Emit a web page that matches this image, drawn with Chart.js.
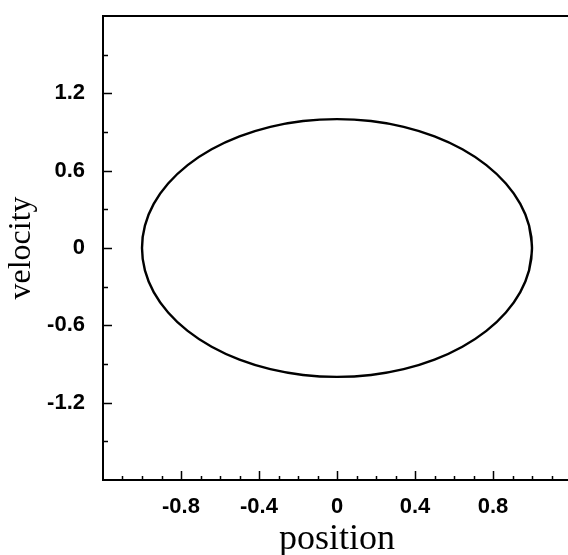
<!DOCTYPE html>
<html>
<head>
<meta charset="utf-8">
<script src="https://cdn.jsdelivr.net/npm/chart.js@4"></script>
<style>
  html, body { margin: 0; padding: 0; background: #fff; overflow: hidden; }
  #wrap { width: 575px; height: 555px; }
</style>
</head>
<body>
<div id="wrap"><canvas id="phase" width="575" height="555"></canvas></div>
<script>
  // trajectory (position, velocity); runs one step past the
  // start at each end so the loop closes without a corner
  const position = [0.985, 1, 0.985, 0.94, 0.866, 0.766, 0.643, 0.5, 0.342, 0.174, 0,
    -0.174, -0.342, -0.5, -0.643, -0.766, -0.866, -0.94, -0.985, -1,
    -0.985, -0.94, -0.866, -0.766, -0.643, -0.5, -0.342, -0.174, 0,
    0.174, 0.342, 0.5, 0.643, 0.766, 0.866, 0.94, 0.985, 1, 0.985];
  const velocity = [0.174, 0, -0.174, -0.342, -0.5, -0.643, -0.766, -0.866, -0.94, -0.985, -1,
    -0.985, -0.94, -0.866, -0.766, -0.643, -0.5, -0.342, -0.174, 0,
    0.174, 0.342, 0.5, 0.643, 0.766, 0.866, 0.94, 0.985, 1,
    0.985, 0.94, 0.866, 0.766, 0.643, 0.5, 0.342, 0.174, 0, -0.174];

  const xMajor = [-0.8, -0.4, 0, 0.4, 0.8];
  const xMinor = [-1.1, -1, -0.9, -0.7, -0.6, -0.5, -0.3, -0.2, -0.1, 0.1, 0.2, 0.3, 0.5, 0.6, 0.7, 0.9, 1, 1.1];
  const yMajor = [-1.2, -0.6, 0, 0.6, 1.2];
  const yMinor = [-1.5, -0.9, -0.3, 0.3, 0.9, 1.5];

  const points = position.map((p, i) => ({ x: p, y: velocity[i] }));

  // frame + inward tick marks
  const frame = {
    id: "frame",
    afterDraw(chart) {
      const { ctx, chartArea: a, scales } = chart;
      ctx.save();
      ctx.strokeStyle = "#000";
      ctx.lineWidth = 2;
      ctx.strokeRect(a.left, a.top, a.right - a.left, a.bottom - a.top);
      ctx.lineWidth = 1.5;
      ctx.beginPath();
      const tick = (vals, len) => {
        vals.forEach(v => {
          const px = Math.round(scales.x.getPixelForValue(v)) + 0.5;
          ctx.moveTo(px, a.bottom);
          ctx.lineTo(px, a.bottom - len);
        });
      };
      const ytick = (vals, len) => {
        vals.forEach(v => {
          const py = Math.round(scales.y.getPixelForValue(v)) + 0.5;
          ctx.moveTo(a.left, py);
          ctx.lineTo(a.left + len, py);
        });
      };
      tick(xMajor, 9);
      tick(xMinor, 4);
      ytick(yMajor, 9);
      ytick(yMinor, 5);
      ctx.stroke();
      ctx.restore();
    },
  };

  const tickFont = { family: "'Liberation Sans', Arial, sans-serif", size: 22, weight: "bold" };
  const serif = "'Liberation Serif', 'Times New Roman', serif";

  new Chart(document.getElementById("phase"), {
    type: "scatter",
    data: {
      datasets: [
        {
          data: points,
          showLine: true,
          borderColor: "#000",
          borderWidth: 2.4,
          tension: 0.33,
          pointRadius: 0,
          fill: false,
        },
      ],
    },
    options: {
      responsive: false,
      animation: false,
      layout: { padding: { top: 16, right: 4, left: 0, bottom: 0 } },
      plugins: { legend: { display: false }, tooltip: { enabled: false } },
      scales: {
        x: {
          type: "linear",
          min: -1.2,
          max: 1.2,
          grid: { display: false },
          border: { display: false },
          afterBuildTicks: s => { s.ticks = xMajor.map(v => ({ value: v })); },
          afterFit: s => { s.height = 75; s.paddingLeft = 0; s.paddingRight = 0; },
          ticks: {
            color: "#000",
            font: tickFont,
            padding: 6,
            maxRotation: 0,
            callback: v => String(v),
          },
          title: {
            display: true,
            text: "position",
            color: "#000",
            font: { family: serif, size: 36, lineHeight: 0.85 },
            padding: { top: 0, bottom: 0 },
          },
        },
        y: {
          type: "linear",
          min: -1.8,
          max: 1.8,
          grid: { display: false },
          border: { display: false },
          afterBuildTicks: s => { s.ticks = yMajor.map(v => ({ value: v })); },
          afterFit: s => { s.width = 103; s.paddingTop = 0; s.paddingBottom = 0; },
          ticks: {
            color: "#000",
            font: tickFont,
            padding: 10,
            callback: v => String(v),
          },
          title: {
            display: true,
            text: "velocity",
            color: "#000",
            font: { family: serif, size: 32, lineHeight: 1.0 },
            padding: { top: 6, bottom: 0 },
          },
        },
      },
    },
    plugins: [frame],
  });
</script>
</body>
</html>
